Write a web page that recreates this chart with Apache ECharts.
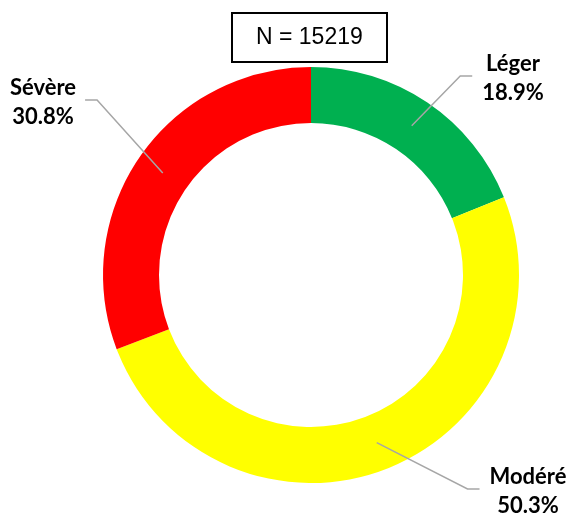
<!DOCTYPE html>
<html>
<head>
<meta charset="utf-8">
<script src="https://cdn.jsdelivr.net/npm/echarts@6/dist/echarts.min.js"></script>
<style>html,body{margin:0;padding:0;background:#fff;}#c{width:570px;height:514px;}</style>
</head>
<body>
<div id="c"></div>
<script>
var categories = ['Léger', 'Modéré', 'Sévère'];
var values = [18.9, 50.3, 30.8];
var colors = ['#00b050', '#ffff00', '#ff0000'];
var totalN = 15219;

// label anchor positions (layout only)
var labelPos = [
  {x: 513, y: 78, side: 'right'},
  {x: 528, y: 491, side: 'right'},
  {x: 43, y: 102, side: 'left'}
];

var pieCenter = [311, 275];
var pieRadius = [152, 208];

var chart = echarts.init(document.getElementById('c'));
chart.setOption({
  animation: false,
  title: {
    text: 'N = ' + totalN,
    left: 232, top: 13,
    padding: [12, 24],
    borderColor: '#000', borderWidth: 2,
    textStyle: {fontFamily: 'Liberation Sans', fontWeight: 'normal', fontSize: 23, color: '#000', lineHeight: 25}
  },
  series: [{
    type: 'pie',
    z: 2,
    center: pieCenter,
    radius: pieRadius,
    startAngle: 90,
    clockwise: true,
    data: categories.map(function (c, i) {
      return {name: c, value: values[i], itemStyle: {color: colors[i]}};
    }),
    label: {show: false},
    labelLine: {show: false},
    itemStyle: {borderWidth: 0},
    emphasis: {disabled: true}
  }, {
    type: 'pie',
    z: 5,
    silent: true,
    center: pieCenter,
    radius: pieRadius,
    startAngle: 90,
    clockwise: true,
    avoidLabelOverlap: false,
    data: categories.map(function (c, i) {
      return {name: c, value: values[i], itemStyle: {color: 'rgba(0,0,0,0)'}};
    }),
    label: {
      show: true,
      formatter: function (p) { return p.name + '\n' + p.value.toFixed(1) + '%'; },
      fontFamily: 'Lato', fontWeight: 'bold', fontSize: 22, lineHeight: 29, color: '#000', align: 'center'
    },
    labelLine: {show: true, showAbove: true, length: 15, length2: 15, lineStyle: {color: '#a6a6a6', width: 1.5}},
    itemStyle: {borderWidth: 0},
    emphasis: {disabled: true},
    labelLayout: function (params) {
      var i = params.dataIndex;
      var pos = labelPos[i];
      var pts = params.labelLinePoints;
      var w = params.labelRect.width;
      var res = {x: pos.x, y: pos.y, align: 'center', verticalAlign: 'middle'};
      if (pts) {
        var p0 = pts[0], p1 = pts[1];
        var dx = p1[0] - p0[0], dy = p1[1] - p0[1];
        var len = Math.sqrt(dx * dx + dy * dy) || 1;
        var start = [p0[0] - dx / len * 28, p0[1] - dy / len * 28];
        var endX = pos.side === 'left' ? pos.x + w / 2 + 9 : pos.x - w / 2 - 10;
        var endY = pos.y - 2;
        var bendX = pos.side === 'left' ? endX + 12 : endX - 12;
        res.labelLinePoints = [start, [bendX, endY], [endX, endY]];
      }
      return res;
    }
  }]
});
</script>
</body>
</html>
